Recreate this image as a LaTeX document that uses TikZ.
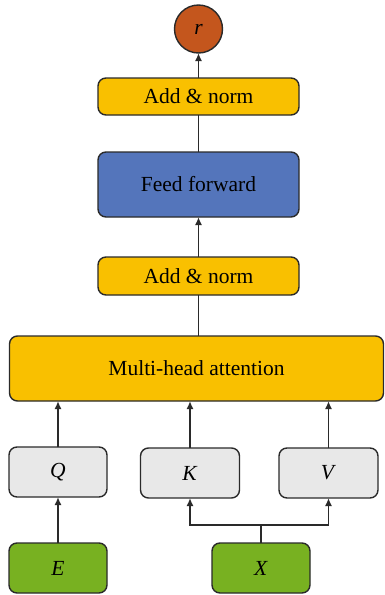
\documentclass[tikz,border=0pt]{standalone}
\usepackage{fontspec}
\setmainfont{Liberation Serif}
\usetikzlibrary{arrows.meta,positioning,calc}
\definecolor{normY}{HTML}{F9C000}
\definecolor{ffBlue}{HTML}{5475BB}
\definecolor{inGreen}{HTML}{78B121}
\definecolor{qkvGray}{HTML}{E8E8E8}
\definecolor{outRed}{HTML}{C4561D}
\definecolor{edge}{HTML}{2A2A2A}
\tikzset{
  block/.style={rectangle, rounded corners=8pt, draw=edge, line width=1.4pt, fill=#1,
                align=center, inner sep=0pt, outer sep=0pt, font=\fontsize{21.5}{25}\selectfont},
  outnode/.style={circle, draw=edge, line width=1.4pt, fill=outRed, inner sep=0pt, outer sep=0pt,
                  minimum size=48pt, font=\fontsize{21.5}{25}\selectfont},
  arr/.style={-{Latex[length=8pt,width=7pt]}, line width=1.9pt, draw=edge},
  lnk/.style={line width=1.9pt, draw=edge},
}

\begin{document}
\begin{tikzpicture}[x=1pt, y=-1pt, node distance=46pt]
    \useasboundingbox (0,0) rectangle (384,595);
    % inputs
    \node[block=inGreen, minimum width=98pt, minimum height=50pt] (e) at (58,568) {\textit{E}};
    \node[block=inGreen, minimum width=98pt, minimum height=50pt] (x) at (261,568) {\textit{X}};
    \node[block=qkvGray, minimum width=98pt, minimum height=50pt, above=of e] (q) {\textit{Q}};
    \node[block=qkvGray, minimum width=99pt, minimum height=50pt] (k) at (190,473) {\textit{K}};
    \node[block=qkvGray, minimum width=99pt, minimum height=50pt] (v) at (328.5,473) {\textit{V}};
    % encoder stack
    \node[block=normY, minimum width=374pt, minimum height=65pt] (mha) at (196.5,368.5) {Multi-head attention};
    \node[block=normY, minimum width=201pt, minimum height=38pt] (an1) at (198.5,276) {Add \& norm};
    \node[block=ffBlue, minimum width=201pt, minimum height=65pt, above=40pt of an1] (ff) {Feed forward};
    \node[block=normY, minimum width=201pt, minimum height=37pt, above=37pt of ff] (an2) {Add \& norm};
    \node[outnode, above=25pt of an2] (r) {\textit{r}};
    \coordinate (split) at ($(x.north)+(0,-18)$);
    \draw[arr] (e) -- (q);
    \draw[lnk] (x.north) -- (split);
    \draw[arr] (split) -| (k.south);
    \draw[arr] (split) -| (v.south);
    \draw[arr] (q.north) -- (q.north |- mha.south);
    \draw[arr] (k.north) -- (k.north |- mha.south);
    \draw[arr] (v.north) -- (v.north |- mha.south);
    \draw[lnk] (mha.north -| an1) -- (an1.south);
    \draw[arr] (an1) -- (ff);
    \draw[lnk] (ff) -- (an2);
    \draw[arr] (an2) -- (r);
  \end{tikzpicture}
\end{document}
